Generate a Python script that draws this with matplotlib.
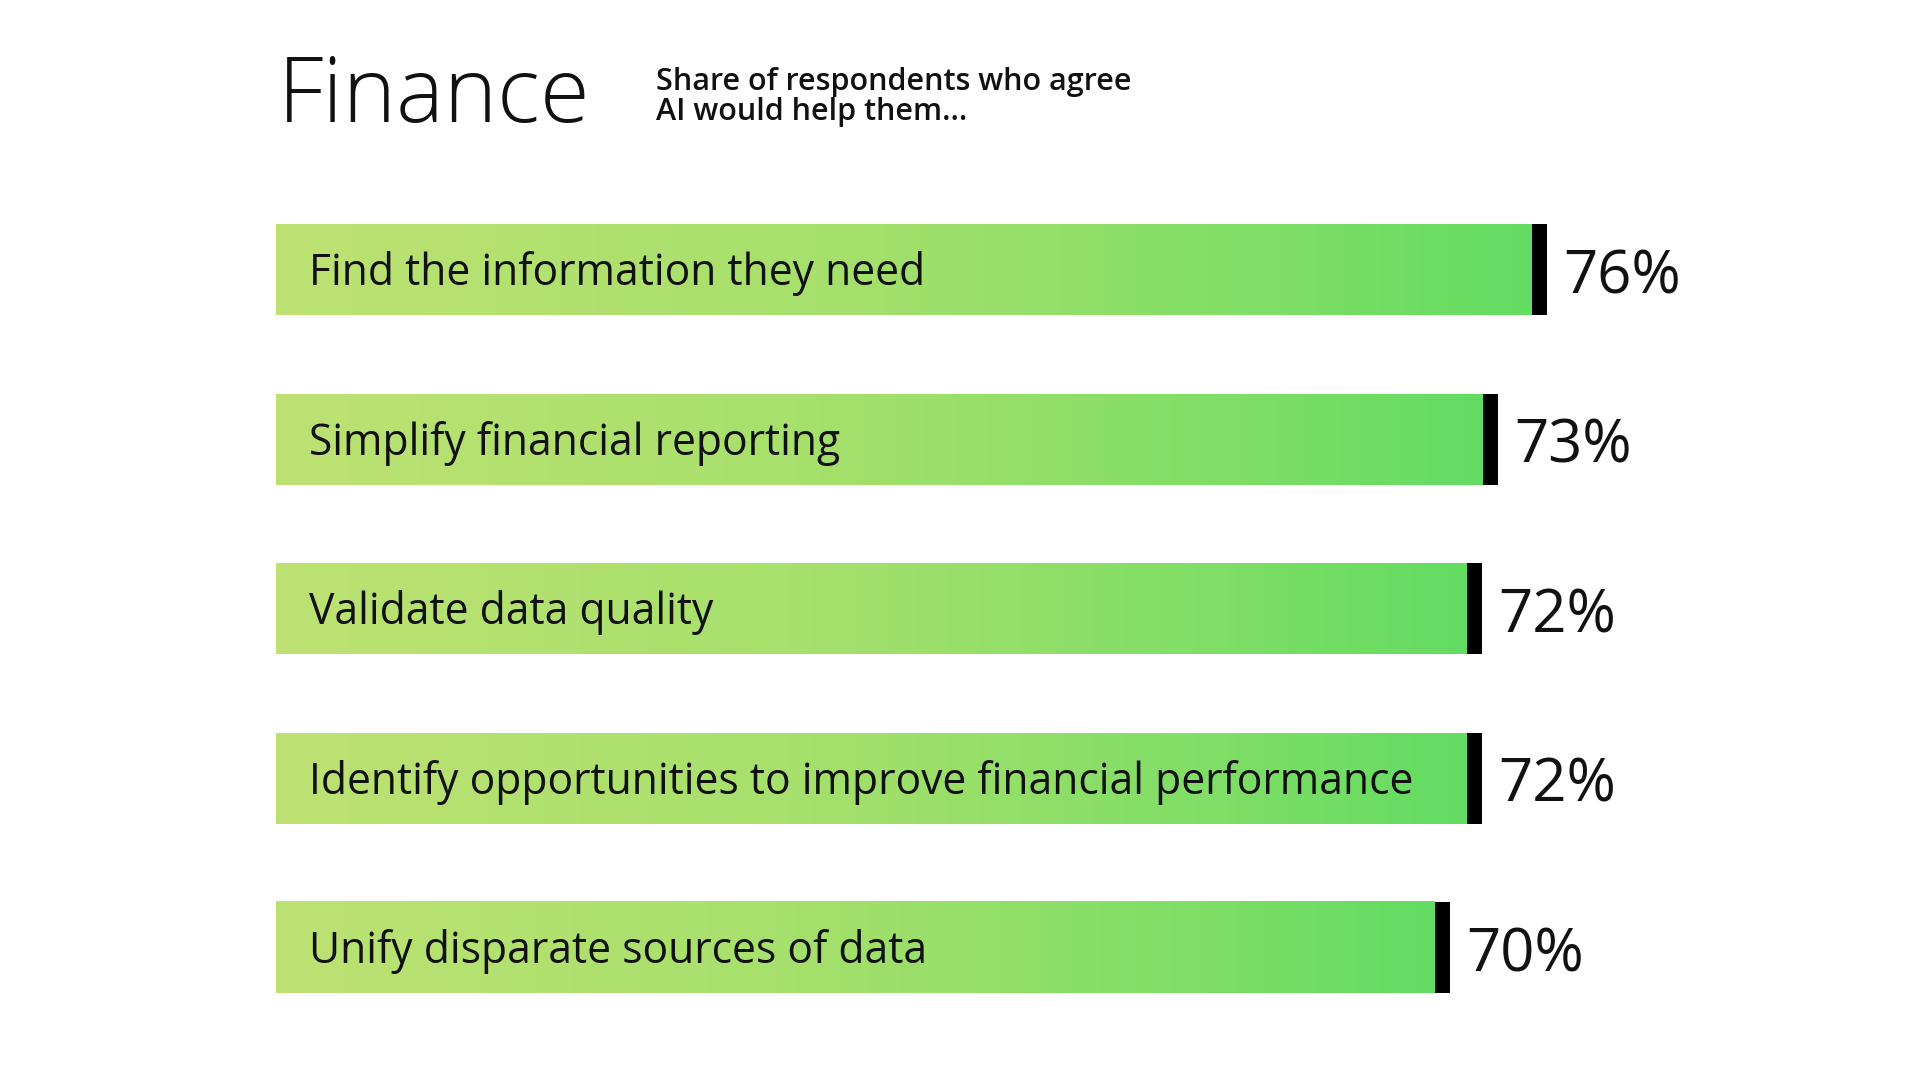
import numpy as np
import matplotlib
matplotlib.use("Agg")
import matplotlib.pyplot as plt
from matplotlib.colors import LinearSegmentedColormap

categories = [
    "Find the information they need",
    "Simplify financial reporting",
    "Validate data quality",
    "Identify opportunities to improve financial performance",
    "Unify disparate sources of data",
]
values = [76, 73, 72, 72, 70]
value_labels = ["76%", "73%", "72%", "72%", "70%"]
title = "Finance"
subtitle = "Share of respondents who agree\nAI would help them..."

FONT = ["Open Sans", "DejaVu Sans"]
plt.rcParams["font.family"] = FONT

W, H = 1920, 1080
fig = plt.figure(figsize=(19.2, 10.8), dpi=100)
fig.patch.set_facecolor("white")

px_per_pct = 16.17
ax_left_px, ax_right_px = 276, 1893
base = -2.6
ax = fig.add_axes([ax_left_px / W, 0, (ax_right_px - ax_left_px) / W, 1])

y0_px, step_px = 269.5, 169.5
ax.axis("off")

bar_h = 91 / step_px
marker_w = 15 / px_per_pct

cmap = LinearSegmentedColormap.from_list(
    "g", [(0.0, "#BDE273"), (0.45, "#A6E06C"), (0.8, "#7EDE66"), (1.0, "#63DC62")]
)
grad = np.linspace(0, 1, 512).reshape(1, -1)

for i, (cat, v, lab) in enumerate(zip(categories, values, value_labels)):
    ax.imshow(grad, cmap=cmap, aspect="auto", interpolation="bicubic",
              extent=(base, v - marker_w, i + bar_h / 2, i - bar_h / 2), zorder=1)
    ax.barh(i, marker_w, left=v - marker_w, height=bar_h, color="black", zorder=2)
    ax.text(base + 33 / px_per_pct, i + 0.025, cat, va="center", ha="left",
            fontsize=30.7, color="#111111", zorder=3)
    ax.text(v + 16 / px_per_pct, i + 0.045, lab, va="center", ha="left",
            fontsize=43, color="#111111", fontweight="normal", zorder=3)

ax.set_xlim(base, base + (ax_right_px - ax_left_px) / px_per_pct)
ax.set_ylim((H - y0_px) / step_px, -y0_px / step_px)

fig.text(278 / W, 1 - 122 / H, title, fontsize=65, fontweight="light",
         va="baseline", ha="left", color="#111111")
fig.text(656 / W, 1 - 67 / H, subtitle, fontsize=22, fontweight="semibold",
         va="top", ha="left", linespacing=1.0, color="#111111")

fig.savefig("out.png", dpi=100, facecolor="white")
